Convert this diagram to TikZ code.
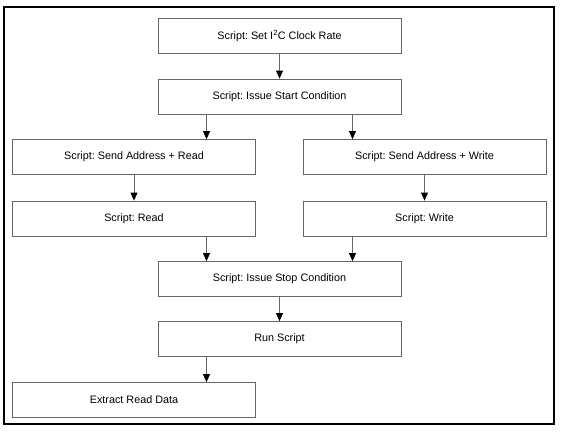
\documentclass[tikz,border=0pt]{standalone}
\usepackage{fontspec}
\setmainfont{Liberation Sans}
\usepackage{tikz}
\usetikzlibrary{arrows.meta,positioning}
\frenchspacing

\tikzset{
	stepbox/.style={draw=black!60, line width=0.8pt, fill=white, minimum width=243pt, minimum height=35pt, inner sep=0pt, font=\fontsize{10.8}{12}\selectfont},
	flow/.style={draw=black!60, line width=0.8pt, -{Triangle[length=8pt,width=7pt,black]}}
}

\begin{document}
\begin{tikzpicture}[x=1pt, y=-1pt]
		\useasboundingbox (0,0) rectangle (580,432);
		\draw [line width=1.2pt] (4,7) rectangle (554,424);

		\node[stepbox] (clock) at (279.5, 36) {Script: Set I\textsuperscript{2}C Clock Rate};
		\node[stepbox] (start) at (279.5, 96.5) {Script: Issue Start Condition};
		\node[stepbox] (addrrd) at (134, 157) {Script: Send Address + Read};
		\node[stepbox] (addrwr) at (424.5, 157) {Script: Send Address + Write};
		\node[stepbox] (rd) at (134, 218.5) {Script: Read};
		\node[stepbox] (wr) at (424.5, 218.5) {Script: Write};
		\node[stepbox] (stop) at (279.5, 279) {Script: Issue Stop Condition};
		\node[stepbox] (run) at (279.5, 339) {Run Script};
		\node[stepbox] (extract) at (134, 400) {Extract Read Data};

		\coordinate (startL) at ([xshift=-73pt]start.south);
		\coordinate (startR) at ([xshift=73pt]start.south);
		\coordinate (stopL) at ([xshift=-73pt]stop.north);
		\coordinate (stopR) at ([xshift=73pt]stop.north);
		\coordinate (runL) at ([xshift=-73pt]run.south);

		\draw [flow] (clock) -- (start);
		\draw [flow] (startL) -- (startL |- addrrd.north);
		\draw [flow] (startR) -- (startR |- addrwr.north);
		\draw [flow] (addrrd) -- (rd);
		\draw [flow] (addrwr) -- (wr);
		\draw [flow] (stopL |- rd.south) -- (stopL);
		\draw [flow] (stopR |- wr.south) -- (stopR);
		\draw [flow] (stop) -- (run);
		\draw [flow] (runL) -- (runL |- extract.north);
	\end{tikzpicture}
\end{document}
